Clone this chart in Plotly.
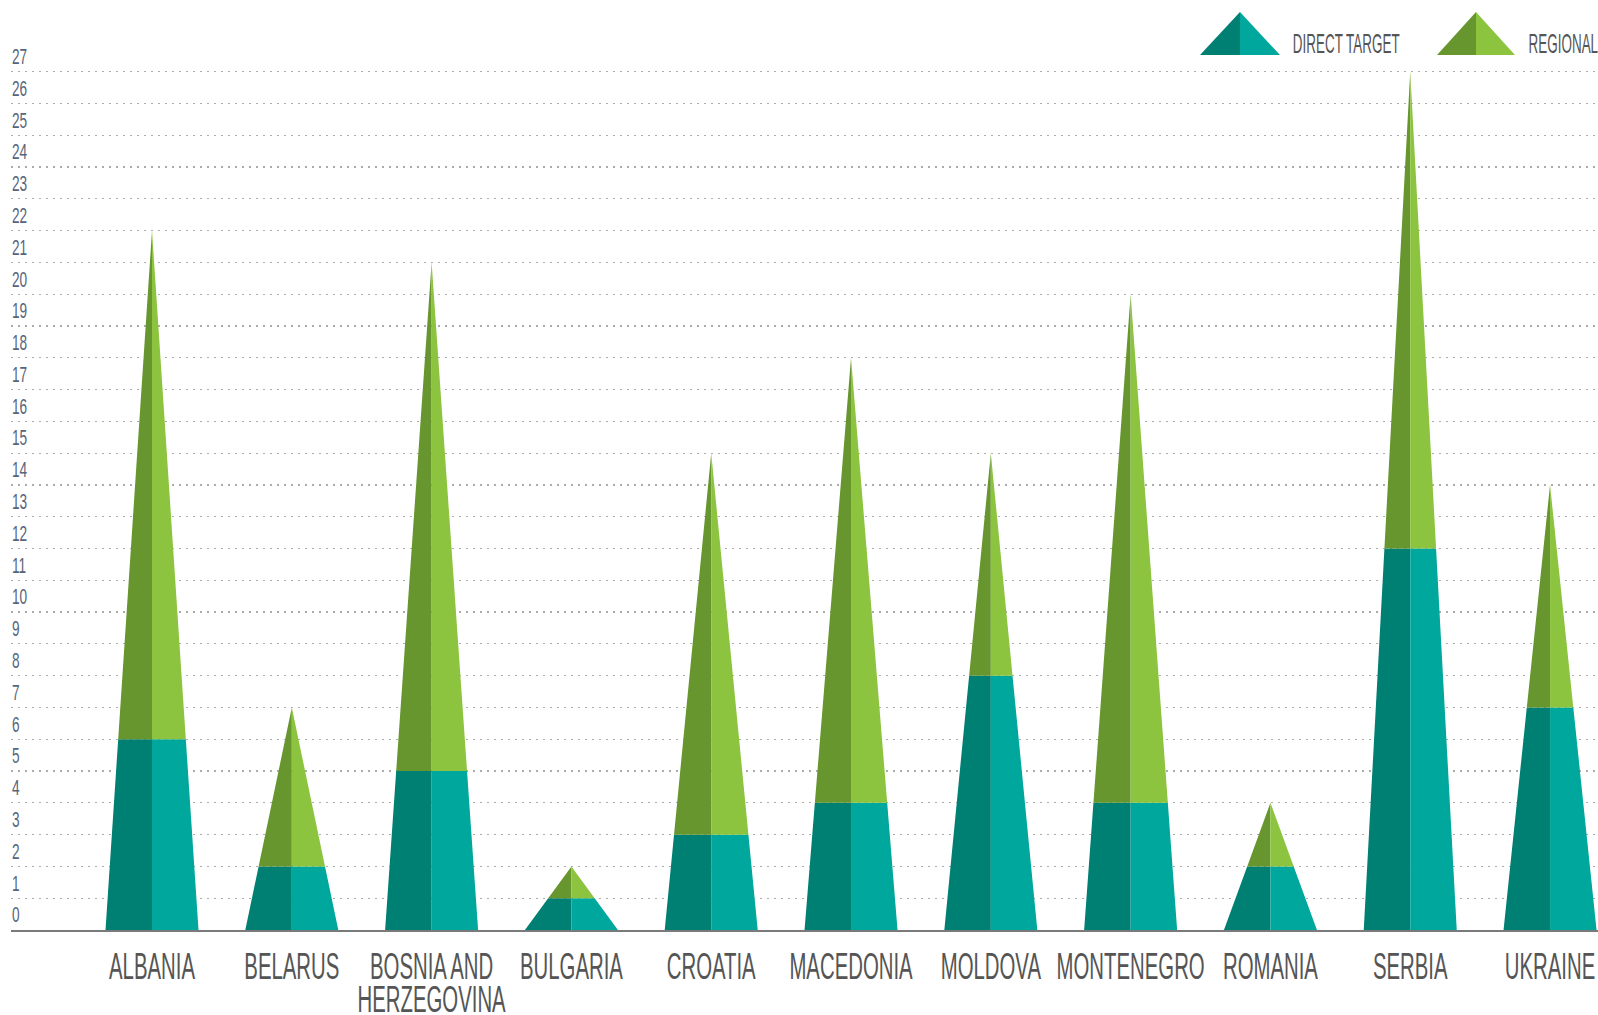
import plotly.graph_objects as go

# ---- data ----
countries = ["ALBANIA", "BELARUS", "BOSNIA AND<br>HERZEGOVINA", "BULGARIA", "CROATIA",
             "MACEDONIA", "MOLDOVA", "MONTENEGRO", "ROMANIA", "SERBIA", "UKRAINE"]
direct_target = [6, 2, 5, 1, 3, 4, 8, 4, 2, 12, 7]
regional = [16, 5, 16, 1, 12, 14, 7, 16, 2, 15, 7]
y_ticks = list(range(0, 28))

# ---- style ----
DARK_TEAL = "#007f73"
LIGHT_TEAL = "#00a79d"
DARK_GREEN = "#67962f"
LIGHT_GREEN = "#8cc43f"
FONT = "Liberation Sans, Arial, sans-serif"
HALF_W = 0.3326

W, H = 1598, 1015
ML, MR, MT, MB = 11, 0, 30, 85
PX_PER_UNIT = 31.79
X_RANGE = [-1.0086, 10.343]
Y_RANGE = [0, (H - MB - MT) / PX_PER_UNIT]


def polys(side, part):
    xs, ys = [], []
    for i, (d, r) in enumerate(zip(direct_target, regional)):
        t = d + r
        c = i
        s = -1 if side == "left" else 1
        wd = HALF_W * (1 - d / t)
        if part == "lower":
            px = [c + s * HALF_W, c, c, c + s * wd, c + s * HALF_W]
            py = [0, 0, d, d, 0]
        else:
            px = [c + s * wd, c, c, c + s * wd]
            py = [d, d, t, d]
        xs += px + [None]
        ys += py + [None]
    return xs, ys


fig = go.Figure()
for side, part, col in [("left", "lower", DARK_TEAL), ("right", "lower", LIGHT_TEAL),
                        ("left", "upper", DARK_GREEN), ("right", "upper", LIGHT_GREEN)]:
    xs, ys = polys(side, part)
    fig.add_trace(go.Scatter(x=xs, y=ys, mode="lines", fill="toself", fillcolor=col,
                             line=dict(width=0, color=col), hoverinfo="skip",
                             showlegend=False))

# ---- legend (drawn) ----
PW, PH = W - ML - MR, H - MT - MB


def px_x(p):
    return (p - ML) / PW


def px_y(p):
    return (H - MB - p) / PH


shapes = []
annotations = []
for (x0, x1, label, tx, c1, c2) in [(1200, 1280, "DIRECT TARGET", 1346, DARK_TEAL, LIGHT_TEAL),
                                    (1437, 1515, "REGIONAL", 1563, DARK_GREEN, LIGHT_GREEN)]:
    xm = (x0 + x1) / 2
    ytop, ybot = 12, 55
    shapes.append(dict(type="path", xref="paper", yref="paper", line=dict(width=0),
                       fillcolor=c1,
                       path=f"M {px_x(x0)} {px_y(ybot)} L {px_x(xm)} {px_y(ybot)} L {px_x(xm)} {px_y(ytop)} Z"))
    shapes.append(dict(type="path", xref="paper", yref="paper", line=dict(width=0),
                       fillcolor=c2,
                       path=f"M {px_x(xm)} {px_y(ybot)} L {px_x(x1)} {px_y(ybot)} L {px_x(xm)} {px_y(ytop)} Z"))
    annotations.append(dict(xref="paper", yref="paper", x=px_x(tx), y=px_y(43),
                            xanchor="center", yanchor="middle", text=label, showarrow=False,
                            font=dict(family=FONT, size=28, color="#555555")))

fig.update_layout(
    width=W, height=H,
    margin=dict(l=ML, r=MR, t=MT, b=MB, pad=0, autoexpand=False),
    paper_bgcolor="white", plot_bgcolor="white",
    showlegend=False, hovermode=False,
    shapes=shapes, annotations=annotations,
    xaxis=dict(range=X_RANGE, tickmode="array", tickvals=list(range(len(countries))),
               ticktext=countries, showgrid=False, zeroline=False,
               showline=True, linecolor="#7a7a7a", linewidth=2,
               ticks="", ticklen=0, tickangle=0, automargin=False,
               ticklabelstandoff=3, ticklabeloverflow="allow",
               tickfont=dict(family=FONT, size=37, color="#555555")),
    yaxis=dict(range=Y_RANGE, tickmode="array", tickvals=y_ticks,
               ticktext=[str(v) for v in y_ticks],
               ticklabelposition="inside top", showgrid=True,
               gridcolor="#ababab", gridwidth=1.2, griddash="2px,5px",
               zeroline=False, showline=False, ticks="", automargin=False,
               ticklabelstandoff=-2, ticklabeloverflow="allow",
               tickfont=dict(family=FONT, size=22, color="#56657a")),
)

post = """
document.documentElement.style.margin = '0';
document.body.style.margin = '0';
document.body.style.padding = '0';
document.body.style.overflow = 'hidden';
var gd = document.getElementById('{plot_id}');
function sq(sel, f, dyLine) {
  gd.querySelectorAll(sel).forEach(function(t) {
    var lines = t.querySelectorAll('tspan.line');
    var els = lines.length ? Array.prototype.slice.call(lines) : [t];
    els.forEach(function(el, k) {
      if (el.getAttribute('textLength')) return;
      var L = el.getComputedTextLength();
      el.setAttribute('textLength', (L * f).toFixed(2));
      el.setAttribute('lengthAdjust', 'spacingAndGlyphs');
      if (dyLine && k > 0) el.setAttribute('dy', dyLine);
    });
  });
}
function all() {
  sq('g.xtick text', 0.55, '0.87em');
  sq('g.ytick text', 0.62, null);
  sq('g.annotation text', 0.48, null);
}
all();
gd.on('plotly_afterplot', all);
"""

fig.write_html("out.html", post_script=post, config={"displayModeBar": False, "staticPlot": True})
